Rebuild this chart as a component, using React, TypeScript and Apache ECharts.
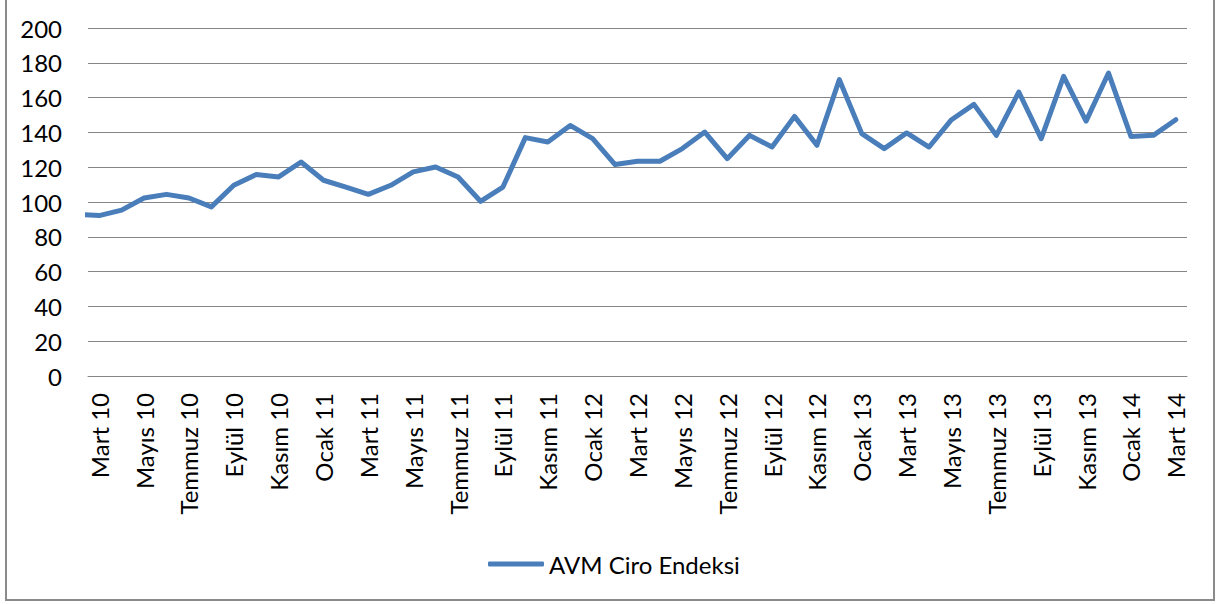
import React, { useEffect, useRef } from "react";
import * as echarts from "echarts";

const categories: string[] = [
  "Mart 10", "Nisan 10", "Mayıs 10", "Haziran 10", "Temmuz 10", "Ağustos 10", "Eylül 10", "Ekim 10", "Kasım 10", "Aralık 10",
  "Ocak 11", "Şubat 11", "Mart 11", "Nisan 11", "Mayıs 11", "Haziran 11", "Temmuz 11", "Ağustos 11", "Eylül 11", "Ekim 11", "Kasım 11", "Aralık 11",
  "Ocak 12", "Şubat 12", "Mart 12", "Nisan 12", "Mayıs 12", "Haziran 12", "Temmuz 12", "Ağustos 12", "Eylül 12", "Ekim 12", "Kasım 12", "Aralık 12",
  "Ocak 13", "Şubat 13", "Mart 13", "Nisan 13", "Mayıs 13", "Haziran 13", "Temmuz 13", "Ağustos 13", "Eylül 13", "Ekim 13", "Kasım 13", "Aralık 13",
  "Ocak 14", "Şubat 14", "Mart 14",
];

// value of the month before the first label (Şubat 10), partly visible at the left edge
const leadingValue = 93;

const avmCiroEndeksi: number[] = [
  92.2, 95.3, 102.3, 104.4, 102.3, 97.2, 109.6, 115.8, 114.4, 123.0,
  112.5, 108.6, 104.4, 109.6, 117.3, 120.1, 114.4, 100.4, 108.6, 137.0, 134.5, 144.0,
  136.4, 121.5, 123.4, 123.4, 130.7, 140.2, 124.9, 138.3, 131.6, 149.2, 132.6, 170.3,
  139.3, 130.7, 139.7, 131.6, 147.3, 156.1, 138.3, 163.2, 136.4, 172.2, 146.5, 174.1,
  137.7, 138.3, 147.3,
];

const seriesName = "AVM Ciro Endeksi";

const FONT = "Lato, 'Open Sans', sans-serif";

export default function App() {
  const ref = useRef<HTMLDivElement>(null);
  useEffect(() => {
    if (!ref.current) return;
    const chart = echarts.init(ref.current, undefined, { renderer: "svg" });
    const lineData = [[-1, leadingValue], ...avmCiroEndeksi.map((v, i) => [i, v])];
    chart.setOption({
      animation: false,
      backgroundColor: "#ffffff",
      textStyle: { fontFamily: FONT },
      graphic: [
        {
          type: "rect",
          shape: { x: 6, y: -5, width: 1208, height: 605 },
          style: { fill: "none", stroke: "#8a8a8a", lineWidth: 2 },
          silent: true,
        },
      ],
      grid: { left: 88, right: 29, top: 28, bottom: 228 },
      legend: {
        data: [seriesName],
        left: 483,
        top: 547,
        icon: "roundRect",
        itemWidth: 56,
        itemHeight: 5,
        itemGap: 10,
        textStyle: { fontSize: 24, color: "#000", fontFamily: FONT },
      },
      xAxis: [
        {
          type: "category",
          data: categories,
          boundaryGap: true,
          axisLine: { show: true, lineStyle: { color: "#868686", width: 1 } },
          axisTick: { show: false },
          axisLabel: {
            interval: 1,
            rotate: 90,
            margin: 17,
            fontSize: 24,
            color: "#000",
            fontFamily: FONT,
          },
        },
        {
          type: "value",
          min: -0.5,
          max: 48.5,
          show: false,
          splitLine: { show: false },
        },
      ],
      yAxis: {
        type: "value",
        min: 0,
        max: 200,
        interval: 20,
        axisLine: { show: false },
        axisTick: { show: false },
        axisLabel: { margin: 26, fontSize: 24, color: "#000", fontFamily: FONT },
        splitLine: { lineStyle: { color: "#868686", width: 1 } },
      },
      series: [
        {
          name: seriesName,
          type: "line",
          xAxisIndex: 1,
          data: lineData,
          symbol: "none",
          clip: true,
          color: "#4A7EBB",
          lineStyle: { color: "#4A7EBB", width: 5, cap: "round", join: "round" },
        },
      ],
    });
    return () => chart.dispose();
  }, []);
  return (
    <div
      ref={ref}
      style={{ position: "absolute", left: 0, top: 0, width: 1216, height: 604 }}
    />
  );
}
